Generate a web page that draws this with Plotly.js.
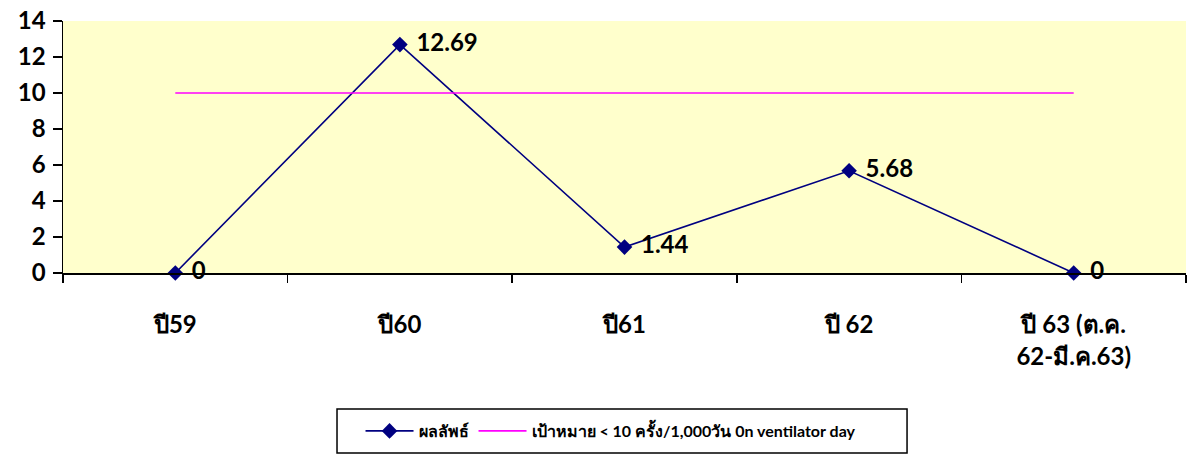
<!DOCTYPE html>
<html>
<head>
<meta charset="utf-8">
<script src="https://cdn.plot.ly/plotly-3.0.1.min.js"></script>
<style>
  html, body { margin: 0; padding: 0; background: #fff; }
  #chart { width: 1189px; height: 459px; }
</style>
</head>
<body>
<div id="chart"></div>
<script>
// Fiscal-year categories
const categories = ['ปี59', 'ปี60', 'ปี61', 'ปี 62', 'ปี 63 (ต.ค.<br>62-มี.ค.63)'];
// Rate per 1,000 ventilator days
const results = [0, 12.69, 1.44, 5.68, 0];
// Target threshold
const target = [10, 10, 10, 10, 10];

const FONT = 'Lato, "Noto Sans", sans-serif';

const traces = [
  {
    x: categories,
    y: results,
    name: 'ผลลัพธ์',
    type: 'scatter',
    mode: 'lines+markers+text',
    line: { color: '#000080', width: 1.6 },
    marker: { symbol: 'diamond', size: 12, color: '#000080' },
    text: results.map(v => '\u2004' + v),
    textposition: 'middle right',
    textfont: { family: FONT, size: 24, color: '#000', weight: 'bold' },
    cliponaxis: false
  },
  {
    x: categories,
    y: target,
    name: 'เป้าหมาย < 10 ครั้ง/1,000วัน 0n ventilator day',
    type: 'scatter',
    mode: 'lines',
    line: { color: '#FF00FF', width: 1.6 }
  }
];

const layout = {
  width: 1189,
  height: 459,
  margin: { l: 63, r: 3, t: 21, b: 186 },
  paper_bgcolor: '#ffffff',
  plot_bgcolor: '#FFFFCC',
  font: { family: FONT, color: '#000' },
  showlegend: true,
  legend: {
    orientation: 'h',
    x: 0.488, xanchor: 'center',
    y: -0.627, yanchor: 'middle',
    borderwidth: 0,
    bgcolor: 'rgba(0,0,0,0)',
    font: { family: FONT, size: 16, weight: 'bold' },
    itemwidth: 48,
    tracegroupgap: 0
  },
  // legend frame
  shapes: [{
    type: 'rect', xref: 'paper', yref: 'paper',
    x0: 0.244, x1: 0.7516, y0: -0.714, y1: -0.5397,
    line: { color: '#000', width: 1.5 },
    fillcolor: 'rgba(0,0,0,0)',
    layer: 'below'
  }],
  xaxis: {
    type: 'category',
    range: [-0.5, 4.5],
    autorange: false,
    showgrid: false,
    showline: true, linecolor: '#000', linewidth: 1.5,
    ticks: 'outside', tickson: 'boundaries', ticklen: 8, tickcolor: '#000', tickwidth: 1.5,
    ticklabelstandoff: 30,
    tickfont: { family: FONT, size: 24, weight: 'bold' },
    zeroline: false,
    fixedrange: true
  },
  yaxis: {
    range: [0, 14],
    autorange: false,
    dtick: 2,
    showgrid: false,
    showline: true, linecolor: '#000', linewidth: 1.5,
    ticks: 'outside', ticklen: 9, tickcolor: '#000', tickwidth: 1.5,
    ticklabelstandoff: 2,
    tickfont: { family: FONT, size: 24, weight: 'bold' },
    zeroline: false,
    fixedrange: true
  }
};

Plotly.newPlot('chart', traces, layout, { displayModeBar: false, staticPlot: true });
</script>
</body>
</html>
